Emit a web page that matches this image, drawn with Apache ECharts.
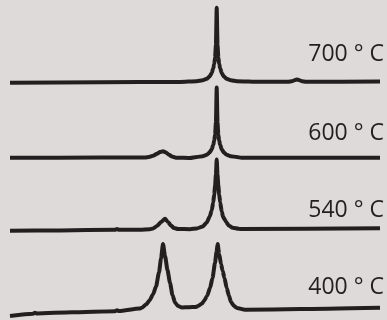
<!DOCTYPE html>
<html>
<head>
<meta charset="utf-8">
<script src="https://cdn.jsdelivr.net/npm/echarts@6/dist/echarts.min.js"></script>
<style>
  html, body { margin: 0; padding: 0; background: #dddad9; }
  #chart { width: 387px; height: 320px; }
</style>
</head>
<body>
<div id="chart"></div>
<script>
// XRD scans (2θ in degrees, intensity in arbitrary units) for each annealing temperature
const scan400 = [[20.0,0],[23.73,2.2],[24.05,3.2],[24.38,2.5],[30.05,3.8],[37.03,4.8],[37.35,5.8],[37.68,5.0],
  [41.0,7.5],[41.41,8.3],[42.05,11.4],[42.62,15.5],[43.19,21.5],[43.68,29.5],[44.16,43.5],[44.49,57.5],[44.81,72],
  [45.14,60],[45.54,46],[45.95,33],[46.35,21],[46.76,13.5],[47.24,10],[47.89,8.5],[49.03,8.8],[50.16,9.0],
  [50.49,10],[51.14,12.5],[51.46,15],[51.95,20],[52.44,28],[52.84,38],[53.24,53],[53.49,64],[53.67,72],
  [53.92,62],[54.22,52],[54.49,45],[54.78,38],[55.14,28],[55.52,20],[55.84,14],[56.33,10],[56.81,8],
  [58.11,6.2],[67.03,7],[80.0,8.3]];

const scan540 = [[20.0,0.3],[28.1,0.6],[37.03,1.2],[37.35,2.0],[37.68,1.2],[41.08,1.2],[42.70,1.8],[43.19,2.5],
  [43.84,5],[44.49,9],[45.14,12.3],[45.62,9],[46.11,5.5],[46.59,3],[47.24,2],[49.19,1.8],
  [50.28,2.5],[51.25,4.5],[51.90,8.5],[52.385,14.5],[52.71,20.5],[52.95,28.5],[53.115,36.5],[53.26,45.5],
  [53.39,56.5],[53.52,71.5],[53.65,56.5],[53.78,45.5],[53.925,36.5],[54.09,28.5],[54.33,19.5],[54.57,14],
  [54.82,11.5],[55.06,9],[55.47,5.5],[56.11,3.2],[57.09,2.2],[57.30,2],[80.0,2.8]];

const scan600 = [[20.0,0.3],[34.6,0.4],[41.89,0.5],[42.54,1.0],[43.19,2.2],[43.84,4.2],[44.32,5.9],[44.81,6.7],
  [45.30,5.5],[45.78,3.3],[46.27,1.4],[46.92,0.3],[49.19,0.0],
  [50.28,0.96],[51.25,1.8],[51.90,3.2],[52.385,5.65],[52.71,8.8],[52.95,13],[53.115,17.2],[53.26,23.5],
  [53.39,35.4],[53.52,70.4],[53.65,35.4],[53.78,23.5],[53.925,17.2],[54.09,13],[54.33,8.8],[54.655,5.65],
  [55.14,3.2],[55.79,1.8],[56.76,0.96],[57.5,0.3],[80.0,0.3]];

const scan700 = [[20.0,0.3],[34.6,0.7],[47.57,1.1],
  [50.28,1.8],[51.25,2.7],[51.90,4.2],[52.385,6.7],[52.71,10.1],[52.95,14.5],[53.115,19],[53.26,25.6],
  [53.39,38.2],[53.52,75.2],[53.65,38.2],[53.78,25.6],[53.925,19],[54.09,14.5],[54.33,10.1],[54.655,6.7],
  [55.14,4.2],[55.79,2.7],[56.76,1.8],[60.54,1.2],[65.08,1.2],[65.73,1.8],[66.54,3.6],[67.35,1.8],[68.0,1.3],
  [80.0,1.4]];

const temperatures = ['400 ° C', '540 ° C', '600 ° C', '700 ° C'];
const scans = [scan400, scan540, scan600, scan700];
// vertical stacking offset applied to each scan
const offsets = [4, 89, 162, 237];

const ink = '#231f20';
const chart = echarts.init(document.getElementById('chart'), null, { renderer: 'canvas' });

const series = scans.map((scan, i) => ({
  type: 'line',
  name: temperatures[i],
  data: scan.map(([t, v]) => [t, v + offsets[i]]),
  showSymbol: false,
  symbol: 'none',
  smooth: 0.2,
  smoothMonotone: 'x',
  lineStyle: { color: ink, width: 4, join: 'round', cap: 'butt' },
  silent: true
}));

// temperature captions sit at the right end, above each scan
const captionY = [287.2, 210.2, 133.3, 54.5];
const graphic = temperatures.map((t, i) => ({
  type: 'text',
  x: 384,
  y: captionY[i],
  style: {
    text: t,
    fill: ink,
    font: '23px "Open Sans", sans-serif',
    textAlign: 'right',
    textVerticalAlign: 'middle'
  },
  silent: true
}));

chart.setOption({
  backgroundColor: '#dddad9',
  animation: false,
  grid: { left: 10, right: 7, top: 0, bottom: 0, containLabel: false },
  xAxis: { type: 'value', min: 20, max: 80, show: false },
  yAxis: { type: 'value', min: 0, max: 320, show: false },
  series: series,
  graphic: graphic
});
</script>
</body>
</html>
